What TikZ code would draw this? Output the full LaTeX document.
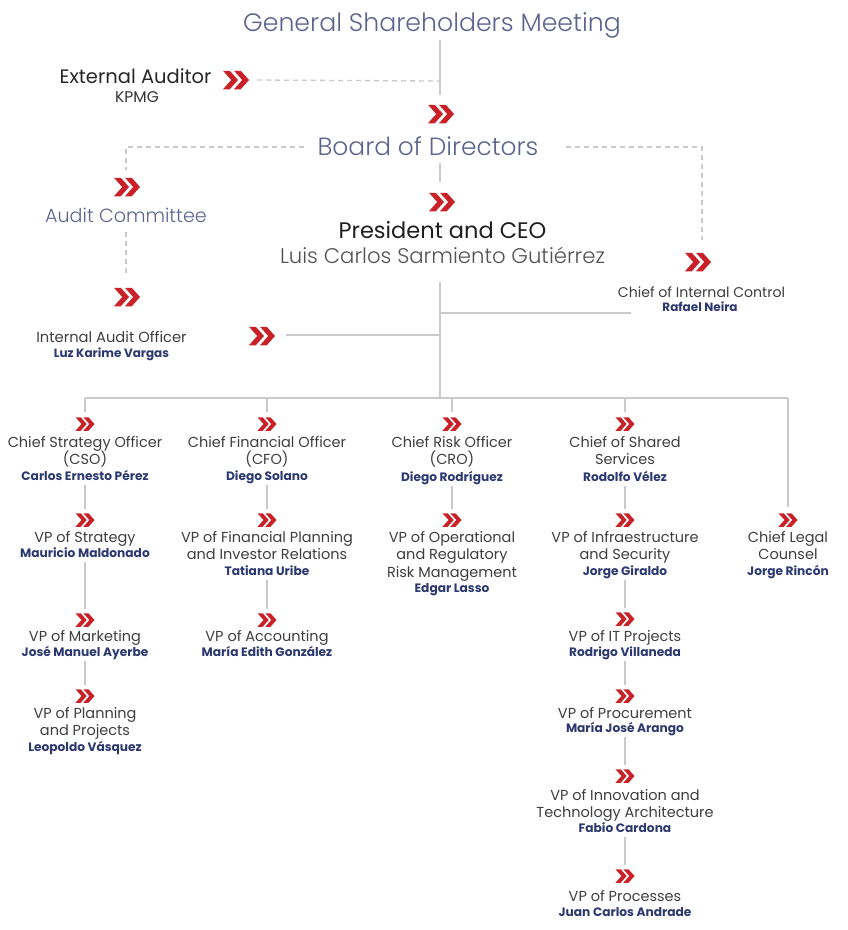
\documentclass[tikz,border=0pt]{standalone}
\usepackage{fontspec}
\setmainfont{Poppins}
\newfontfamily\lightfont{Poppins Light}
\usetikzlibrary{calc}

\definecolor{titleblue}{RGB}{92,100,142}
\definecolor{navyname}{RGB}{44,56,112}
\definecolor{bodygrey}{RGB}{62,62,62}
\definecolor{chevred}{RGB}{200,34,40}
\definecolor{linegrey}{RGB}{202,202,202}

% double chevron filled inside a node: #1 height, #2 slant, #3 stroke, #4 offset of second chevron
\newcommand\chevfill[4]{%
  \fill[chevred] (path picture bounding box.center) ++({-(#4+#3+#2)/2},{-#1/2})
    -- ++(#3,0) -- ++(#2,{#1/2}) -- ++(-#2,{#1/2}) -- ++(-#3,0) -- ++(#2,{-#1/2}) -- cycle;
  \fill[chevred] (path picture bounding box.center) ++({-(#4+#3+#2)/2+#4},{-#1/2})
    -- ++(#3,0) -- ++(#2,{#1/2}) -- ++(-#2,{#1/2}) -- ++(-#3,0) -- ++(#2,{-#1/2}) -- cycle;}

\newcommand\nm[1]{{\fontsize{12.2}{15}\selectfont\bfseries\color{navyname}#1\vphantom{g}}}

\begin{document}
\begin{tikzpicture}[x=1pt,y=-1pt,
  conn/.style={draw=linegrey, line width=1.3pt},
  dashline/.style={draw=linegrey, line width=1.3pt, dash pattern=on 5pt off 4pt},
  chevS/.style={minimum width=21pt, minimum height=16pt, inner sep=0pt,
    path picture={\chevfill{13.5}{6}{5.2}{7.8}}},
  chevL/.style={minimum width=30pt, minimum height=21pt, inner sep=0pt,
    path picture={\chevfill{18.5}{8.2}{6.8}{11}}},
  role/.style={align=center, inner sep=0pt, anchor=north, text=bodygrey,
    font=\fontsize{14.5}{17.5}\selectfont},
  ttl/.style={inner sep=0pt, anchor=base, text=titleblue},
  lbl/.style={inner sep=0pt, anchor=base, text=bodygrey},
  bname/.style={inner sep=0pt, anchor=base, text=navyname,
    font=\fontsize{12}{14}\selectfont\bfseries},
]
\useasboundingbox (0,0) rectangle (847,930);

% ---------- governance ----------
\node[ttl, font=\lightfont\fontsize{25.2}{30}\selectfont] (gsm) at (432,31) {General Shareholders Meeting};
\node[lbl, text=black!85, font=\fontsize{19.5}{24}\selectfont] (ea) at (135.5,83) {External Auditor};
\node[lbl, text=black!80, font=\fontsize{15.5}{19}\selectfont] (kpmg) at (137,102) {KPMG};
\node[chevL] (eak) at (236,80) {};
\coordinate (eaj) at (440,81);

\node[chevL] (bdk) at (441,114) {};
\node[ttl, font=\lightfont\fontsize{24.9}{30}\selectfont] (board) at (428,155) {Board of Directors};
\coordinate (bl) at (126,147);
\coordinate (br) at (702,147);

\node[chevL] (ck) at (442,202) {};
\node[lbl, text=black!88, font=\fontsize{22.5}{27}\selectfont] (ceo) at (442.5,238) {President and CEO};
\node[lbl, text=black!68, font=\lightfont\fontsize{21.2}{25}\selectfont] (luis) at (442.5,263) {Luis Carlos Sarmiento Gutiérrez};

\node[chevL] (ack) at (127,187) {};
\node[ttl, font=\lightfont\fontsize{19.1}{24}\selectfont] (ac) at (126,222) {Audit Committee};
\node[chevL] (iak) at (127,297) {};
\node[lbl, font=\fontsize{14.7}{18}\selectfont] (iao) at (111.5,342) {Internal Audit Officer};
\node[bname] (luz) at (111.5,357) {Luz Karime Vargas};
\node[chevL] (iaok) at (262,336) {};

\node[chevL] (ick) at (698,262) {};
\node[lbl, font=\fontsize{14.1}{18}\selectfont] (icc) at (701.5,297) {Chief of Internal Control};
\node[bname] (neira) at (700,311) {Rafael Neira};

% governance connectors
\coordinate (j0) at (440,398);
\draw[conn, shorten <=2pt, shorten >=8pt] (gsm.south -| j0) -- (bdk.north -| j0);
\draw[dashline, shorten <=6pt] (eak.east) -- (eaj);
\draw[dashline, shorten <=13pt, shorten >=6.5pt] (board.west |- bl) -- (bl) -- (ack.north -| bl);
\draw[dashline, shorten <=27pt, shorten >=11.5pt] (board.east |- br) -- (br) -- (ick.north -| br);
\draw[conn, shorten <=8pt, shorten >=9.5pt] (board.south -| j0) -- (ck.north -| j0);
\draw[dashline, shorten <=10pt, shorten >=13.5pt] (ac.south) -- (iak.north -| ac.south);

\coordinate (jr) at (440,313);
\coordinate (jre) at (631,313);
\coordinate (jl) at (440,335);
\draw[conn, shorten <=19pt] (luis.south -| j0) -- (j0);
\draw[conn] (jr) -- (jre);
\draw[conn, shorten >=9pt] (jl) -- (iaok.east |- jl);

% ---------- executive bus ----------
\coordinate (b1) at (85,398);
\coordinate (b2) at (267,398);
\coordinate (b3) at (452,398);
\coordinate (b4) at (625,398);
\coordinate (b5) at (788,398);
\draw[conn] (b1) -- (b5);

% column 1
\node[chevS] (k11) at (85,424) {};
\node[role] (r11) at (85,436) {Chief Strategy Officer\\(CSO)\\[-2pt]\nm{Carlos Ernesto Pérez}};
\node[chevS] (k12) at (85,520) {};
\node[role] (r12) at (85,531) {VP of Strategy\\[-2pt]\nm{Mauricio Maldonado}};
\node[chevS] (k13) at (85,620) {};
\node[role] (r13) at (85,630) {VP of Marketing\\[-2pt]\nm{José Manuel Ayerbe}};
\node[chevS] (k14) at (85,696) {};
\node[role] (r14) at (85,707) {VP of Planning\\and Projects\\[-2pt]\nm{Leopoldo Vásquez}};

% column 2
\node[chevS] (k21) at (267,424) {};
\node[role] (r21) at (267,436) {Chief Financial Officer\\(CFO)\\[-2pt]\nm{Diego Solano}};
\node[chevS] (k22) at (267,520) {};
\node[role] (r22) at (267,531) {VP of Financial Planning\\and Investor Relations\\[-2pt]\nm{Tatiana Uribe}};
\node[chevS] (k23) at (267,620) {};
\node[role] (r23) at (267,630) {VP of Accounting\\[-2pt]\nm{María Edith González}};

% column 3
\node[chevS] (k31) at (452,424) {};
\node[role] (r31) at (452,436) {Chief Risk Officer\\(CRO)\\[-0.5pt]\nm{Diego Rodríguez}};
\node[chevS] (k32) at (452,520) {};
\node[role] (r32) at (452,531) {VP of Operational\\and Regulatory\\Risk Management\\[-2pt]\nm{Edgar Lasso}};

% column 4
\node[chevS] (k41) at (625,424) {};
\node[role] (r41) at (625,436) {Chief of Shared\\Services\\[-0.5pt]\nm{Rodolfo Vélez}};
\node[chevS] (k42) at (625,520) {};
\node[role] (r42) at (625,531) {VP of Infraestructure\\and Security\\[-2pt]\nm{Jorge Giraldo}};
\node[chevS] (k43) at (625,619) {};
\node[role] (r43) at (625,630) {VP of IT Projects\\[-2pt]\nm{Rodrigo Villaneda}};
\node[chevS] (k44) at (625,696) {};
\node[role] (r44) at (625,707) {VP of Procurement\\[-3pt]\nm{María José Arango}};
\node[chevS] (k45) at (625,776) {};
\node[role] (r45) at (625,789) {VP of Innovation and\\Technology Architecture\\[-3pt]\nm{Fabio Cardona}};
\node[chevS] (k46) at (625,876) {};
\node[role] (r46) at (625,890) {VP of Processes\\[-2pt]\nm{Juan Carlos Andrade}};

% column 5
\node[chevS] (k51) at (788,520) {};
\node[role] (r51) at (788,531) {Chief Legal\\Counsel\\[-2pt]\nm{Jorge Rincón}};

% bus drops
\foreach \b/\k in {b1/k11, b2/k21, b3/k31, b4/k41}
  \draw[conn, shorten >=4pt] (\b) -- (\k.north);
\draw[conn, shorten >=5pt] (b5) -- (k51.north);

% column links
\foreach \r/\k in {r11/k12, r12/k13, r13/k14, r21/k22, r22/k23, r31/k32,
                   r41/k42, r42/k43, r43/k44, r44/k45, r45/k46}
  \draw[conn, shorten <=1pt, shorten >=3pt] (\r.south) -- (\k.north);

\end{tikzpicture}
\end{document}
